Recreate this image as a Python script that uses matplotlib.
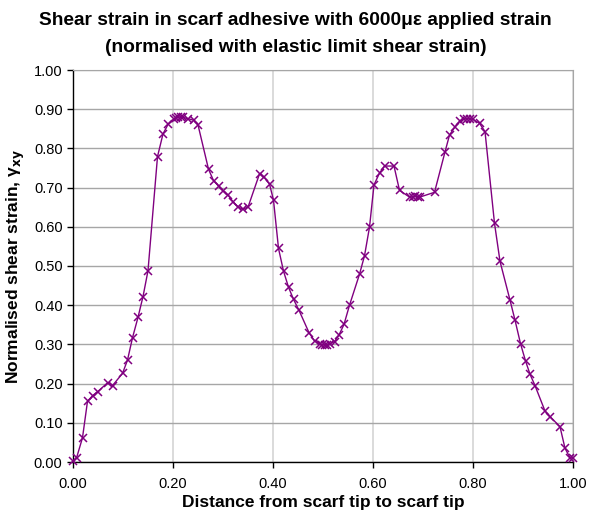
import matplotlib
matplotlib.use("Agg")
import matplotlib.pyplot as plt
from matplotlib.ticker import FormatStrFormatter, MultipleLocator

plt.rcParams["font.family"] = ["Liberation Sans", "DejaVu Sans"]

# normalised position along the scarf (tip to tip)
distance = [
    0.000, 0.007, 0.019, 0.029, 0.039, 0.049, 0.069, 0.079, 0.099, 0.109,
    0.119, 0.130, 0.140, 0.150, 0.169, 0.180, 0.190, 0.201, 0.205, 0.210,
    0.215, 0.220, 0.230, 0.241, 0.250, 0.271, 0.281, 0.291, 0.300, 0.310,
    0.320, 0.330, 0.339, 0.350, 0.373, 0.381, 0.393, 0.401, 0.411, 0.421,
    0.431, 0.441, 0.452, 0.472, 0.483, 0.493, 0.498, 0.503, 0.508, 0.513,
    0.523, 0.532, 0.542, 0.553, 0.573, 0.583, 0.593, 0.602, 0.613, 0.623,
    0.642, 0.653, 0.674, 0.679, 0.684, 0.689, 0.694, 0.723, 0.744, 0.753,
    0.764, 0.774, 0.782, 0.788, 0.794, 0.800, 0.813, 0.824, 0.843, 0.854,
    0.874, 0.884, 0.895, 0.905, 0.914, 0.924, 0.944, 0.954, 0.974, 0.984,
    0.994, 1.000,
]

# shear strain normalised with elastic limit shear strain
shear_strain = [
    0.003, 0.010, 0.062, 0.155, 0.169, 0.179, 0.202, 0.195, 0.226, 0.260,
    0.317, 0.369, 0.422, 0.488, 0.779, 0.837, 0.861, 0.874, 0.878, 0.880,
    0.880, 0.879, 0.876, 0.872, 0.860, 0.747, 0.718, 0.704, 0.692, 0.681,
    0.664, 0.651, 0.645, 0.650, 0.735, 0.728, 0.709, 0.668, 0.545, 0.487,
    0.446, 0.415, 0.387, 0.330, 0.309, 0.301, 0.299, 0.299, 0.299, 0.301,
    0.307, 0.324, 0.351, 0.400, 0.479, 0.526, 0.599, 0.707, 0.737, 0.755,
    0.755, 0.693, 0.675, 0.677, 0.678, 0.677, 0.676, 0.688, 0.791, 0.834,
    0.855, 0.870, 0.875, 0.876, 0.876, 0.874, 0.864, 0.843, 0.609, 0.512,
    0.413, 0.362, 0.302, 0.258, 0.224, 0.195, 0.130, 0.116, 0.090, 0.035,
    0.011, 0.010,
]

title_lines = ["Shear strain in scarf adhesive with 6000με applied strain",
               "(normalised with elastic limit shear strain)"]

fig = plt.figure(figsize=(5.91, 5.15), dpi=100)
ax = fig.add_axes([73 / 591, 53 / 515, 500 / 591, 392 / 515])

ax.plot(distance, shear_strain, color="#800080", linewidth=1.0,
        marker="x", markersize=5.5, markeredgewidth=1.1, clip_on=False, zorder=3)

ax.set_xlim(0, 1)
ax.set_ylim(0, 1)
ax.xaxis.set_major_locator(MultipleLocator(0.2))
ax.yaxis.set_major_locator(MultipleLocator(0.1))
ax.xaxis.set_major_formatter(FormatStrFormatter("%.2f"))
ax.yaxis.set_major_formatter(FormatStrFormatter("%.2f"))

# horizontal grid darker than the vertical one
ax.yaxis.grid(True, color="#a6a6a6", linewidth=1.0)
ax.xaxis.grid(True, color="#d4d4d4", linewidth=1.2)
ax.set_axisbelow(True)

for side in ["top", "right"]:
    ax.spines[side].set_color("#a6a6a6")
for side in ["left", "bottom"]:
    ax.spines[side].set_color("black")
    ax.spines[side].set_linewidth(1.0)

ax.tick_params(direction="out", length=4, width=1, labelsize=10.5, colors="black")
ax.tick_params(axis="x", pad=7)

ax.set_xlabel("Distance from scarf tip to scarf tip", fontsize=12.5,
              fontweight="bold", labelpad=3)
ax.set_ylabel(r"Normalised shear strain, γ$_{\mathbf{xy}}$", fontsize=12.5,
              fontweight="bold", labelpad=5)

# two title lines placed separately to get the wide line gap
fig.text(0.5, 1 - 25 / 515, title_lines[0], ha="center", va="baseline",
         fontsize=13.8, fontweight="bold")
fig.text(0.5, 1 - 52 / 515, title_lines[1], ha="center", va="baseline",
         fontsize=13.8, fontweight="bold")

plt.savefig("out.png", dpi=100)
